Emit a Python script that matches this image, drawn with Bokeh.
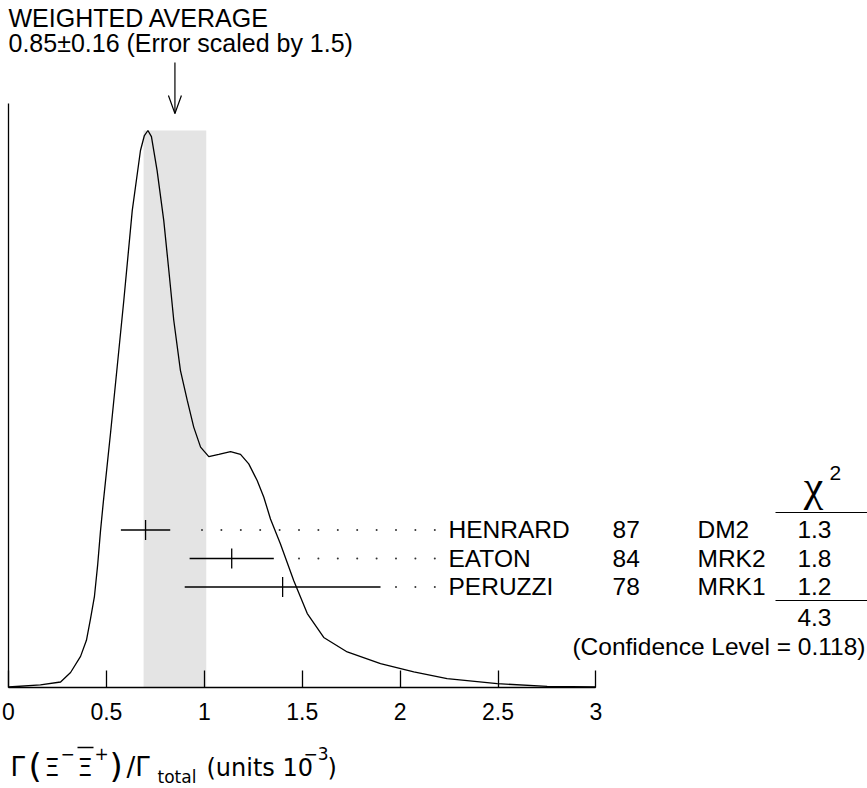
from bokeh.plotting import figure
from bokeh.models import Range1d, FixedTicker
from bokeh.core.properties import value
from bokeh.embed import file_html
from bokeh.resources import INLINE

# ---- measurements -------------------------------------------------------
experiments = ["HENRARD", "EATON", "PERUZZI"]
years = ["87", "84", "78"]
detectors = ["DM2", "MRK2", "MRK1"]
values = [0.70, 1.14, 1.40]
errors = [0.126, 0.215, 0.50]
chi2 = [1.3, 1.8, 1.2]
chi2_total = 4.3
conf_level = 0.118

avg_value = 0.85
avg_error = 0.16
scale_factor = 1.5

# ideogram (sum of the measurement gaussians), peak normalised to 1
ideogram_x = [0.000, 0.163, 0.266, 0.317, 0.368, 0.398, 0.419, 0.439, 0.455,
              0.470, 0.485, 0.521, 0.555, 0.589, 0.632, 0.674, 0.694, 0.712,
              0.730, 0.759, 0.793, 0.819, 0.844, 0.878, 0.913, 0.946, 0.981,
              1.023, 1.074, 1.134, 1.185, 1.227, 1.270, 1.304, 1.338, 1.389,
              1.457, 1.526, 1.610, 1.730, 1.900, 2.070, 2.240, 2.496, 2.751,
              3.000]
ideogram_y = [0.000, 0.004, 0.009, 0.026, 0.055, 0.084, 0.123, 0.163, 0.218,
              0.281, 0.335, 0.456, 0.575, 0.695, 0.856, 0.964, 0.991, 1.000,
              0.989, 0.928, 0.838, 0.748, 0.659, 0.569, 0.515, 0.467, 0.431,
              0.414, 0.418, 0.423, 0.418, 0.401, 0.371, 0.341, 0.302, 0.257,
              0.191, 0.132, 0.089, 0.063, 0.042, 0.027, 0.015, 0.006, 0.001,
              0.000]

x_ticks = [0, 0.5, 1, 1.5, 2, 2.5, 3]
x_tick_labels = ["0", "0.5", "1", "1.5", "2", "2.5", "3"]

# ---- page geometry (pixels, measured from the top-left corner) ---------
W, H = 867, 788
X0, XS = 8.0, 195.8      # pixel of x = 0, pixels per unit
Y0, YS = 686.5, 556.5    # pixel of y = 0, pixels per unit


def dx(px):
    return (px - X0) / XS


def dy(py):
    return (Y0 - py) / YS


p = figure(width=W, height=H, output_backend="svg", toolbar_location=None,
           x_range=Range1d(dx(0), dx(W)), y_range=Range1d(dy(H), dy(0)),
           min_border=0)
p.grid.visible = False
p.outline_line_color = None
p.background_fill_color = "white"
p.border_fill_color = "white"

FONT = "Liberation Sans"
SIZE = 24.5

# x axis drawn on the zero line, only over 0..3
xa = p.xaxis[0]
xa.fixed_location = 0
xa.bounds = (0, 3)
xa.ticker = FixedTicker(ticks=x_ticks)
xa.major_label_overrides = {t: s for t, s in zip(x_ticks, x_tick_labels)}
xa.major_tick_in = 17
xa.major_tick_out = 0
xa.minor_tick_in = 0
xa.minor_tick_out = 0
xa.axis_line_width = 1.3
xa.major_tick_line_width = 1.3
xa.axis_line_color = "black"
xa.major_tick_line_color = "black"
xa.major_label_text_font = FONT
xa.major_label_text_font_size = "23px"
xa.major_label_text_color = "black"
xa.major_label_standoff = 16

ya = p.yaxis[0]
ya.fixed_location = 0
ya.bounds = (0, dy(103))
ya.ticker = FixedTicker(ticks=[])
ya.major_label_text_font_size = "0px"
ya.major_tick_in = 0
ya.major_tick_out = 0
ya.minor_tick_in = 0
ya.minor_tick_out = 0
ya.axis_line_width = 1.3
ya.axis_line_color = "black"

# weighted-average band and ideogram
p.quad(left=[avg_value - avg_error], right=[avg_value + avg_error],
       bottom=[0], top=[max(ideogram_y)],
       fill_color="#e4e4e4", line_color=None)
p.line(ideogram_x, ideogram_y, line_color="black", line_width=1.3)

# arrow pointing at the average
p.segment(x0=[avg_value], y0=[dy(62)], x1=[avg_value], y1=[dy(113)],
          line_color="black", line_width=1.2)
hw = 6.5 / XS
p.multi_line(xs=[[avg_value - hw, avg_value, avg_value + hw]],
             ys=[[dy(95), dy(113), dy(95)]], line_color="black", line_width=1.2)


def txt(x_px, base_px, s, size=SIZE, font=FONT, align="left"):
    """Place text so that its baseline sits at base_px (pixels from top)."""
    y = dy(base_px - 0.36 * size)
    p.text(x=[dx(x_px)], y=[y], text=[s], text_font=value(font),
           text_font_size=f"{size}px", text_align=align,
           text_baseline="alphabetic", text_color="black")


txt(8, 26, "WEIGHTED AVERAGE", size=25)
txt(8, 51, f"{avg_value:.2f}\u00b1{avg_error:.2f} (Error scaled by {scale_factor})", size=25)

# measurement rows
row_px = [529.5, 558.0, 586.5]
base_px = [538.0, 566.5, 595.0]
tick_half = 10.0 / YS
for i in range(len(experiments)):
    yr = dy(row_px[i])
    lo, hi = values[i] - errors[i], values[i] + errors[i]
    p.segment(x0=[lo], y0=[yr], x1=[hi], y1=[yr], line_color="black", line_width=1.3)
    p.segment(x0=[values[i]], y0=[yr - tick_half], x1=[values[i]], y1=[yr + tick_half],
              line_color="black", line_width=1.3)
    # dotted leader to the label
    end_px = X0 + hi * XS
    dots = []
    d = 434.3
    while d > end_px + 14:
        dots.append(dx(d))
        d -= 19.4
    p.scatter(x=dots, y=[yr] * len(dots), size=2.0, marker="circle",
              fill_color="#333333", line_color=None)
    txt(448, base_px[i], experiments[i])
    txt(612, base_px[i], years[i])
    txt(697, base_px[i], detectors[i])
    txt(831, base_px[i], f"{chi2[i]:.1f}", align="right")

# chi-square column
txt(813, 502, "\u03c7", size=44, font="Liberation Serif", align="center")
txt(829, 480, "2", size=21)
p.segment(x0=[dx(775), dx(775)], y0=[dy(512), dy(600)],
          x1=[dx(867), dx(867)], y1=[dy(512), dy(600)],
          line_color="black", line_width=1.2)
txt(831, 626, f"{chi2_total:.1f}", align="right")
txt(865, 655, f"(Confidence Level = {conf_level})", align="right")

# x-axis title: Γ(Ξ⁻ Ξ̄⁺)/Γ_total (units 10⁻³)
LF = "DejaVu Sans"
txt(10, 776, "\u0393", size=26, font=LF)
txt(28, 778, "(", size=34, font=LF)
txt(44, 776, "\u039e", size=24, font=LF)
txt(60, 759, "\u2212", size=17, font=LF)
txt(77, 776, "\u039e", size=24, font=LF)
p.segment(x0=[dx(77)], y0=[dy(747)], x1=[dx(93)], y1=[dy(747)],
          line_color="black", line_width=1.5)
txt(94, 759, "+", size=17, font=LF)
txt(109, 778, ")", size=34, font=LF)
txt(126, 776, "/\u0393", size=26, font=LF)
txt(157, 783, "total", size=17, font=LF)
txt(206, 776, "(units 10", size=24, font=LF)
txt(303, 759, "\u22123", size=17, font=LF)
txt(327, 776, ")", size=24, font=LF)

open("out.html", "w").write(file_html(p, INLINE))
